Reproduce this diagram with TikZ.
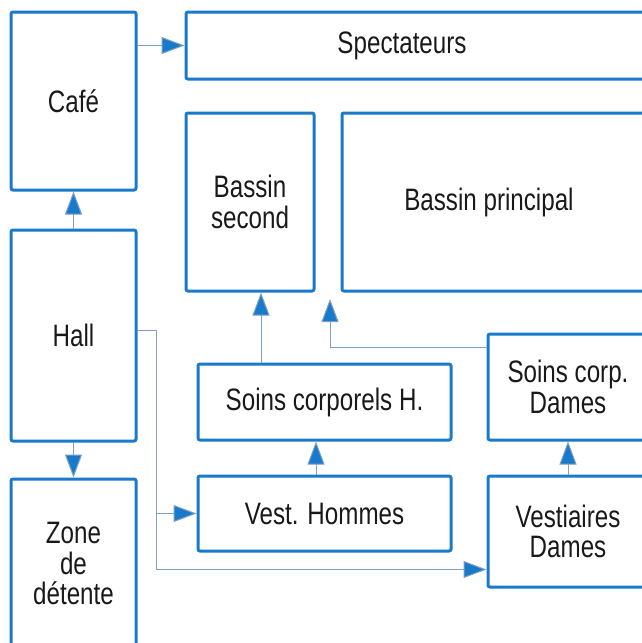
\documentclass[tikz,border=0pt]{standalone}
\usepackage{fontspec}
\setmainfont{Liberation Sans}[FakeStretch=0.78]
\usetikzlibrary{arrows.meta}

\definecolor{boxblue}{RGB}{25,122,204}
\definecolor{linecol}{RGB}{125,160,195}

\begin{document}
\begin{tikzpicture}[x=1pt,y=-1pt,
  room/.style={draw=boxblue, line width=3pt, rounded corners=2pt, align=center,
    inner sep=0pt, text=black!90, font=\fontsize{31}{30.5}\selectfont},
  link/.style={draw=linecol, line width=1pt},
  arr/.style={link, -{Triangle[length=23pt,width=17pt,fill=boxblue]}}]

\useasboundingbox (0,0) rectangle (642,643);

% Left column
\node[room, minimum width=125pt, minimum height=178pt] (cafe) at (73.5,101) {Café};
\node[room, minimum width=125pt, minimum height=211pt] (hall) at (73.5,335.5) {Hall};
\node[room, minimum width=125pt, minimum height=169pt] (zone) at (73.5,563.5) {Zone\\de\\détente};

% Pools and stands
\node[room, minimum width=462pt, minimum height=67pt] (spect) at (417,45.5) {\hspace*{-30pt}\raisebox{-2pt}{Spectateurs}};
\node[room, minimum width=128pt, minimum height=178pt] (bsec) at (250,202) {Bassin\\second};
\node[room, minimum width=306pt, minimum height=178pt] (bprin) at (495,202) {\hspace*{-12pt}\raisebox{2pt}{Bassin principal}};

% Changing rooms and care
\node[room, minimum width=253pt, minimum height=76pt] (soinsh) at (324.5,402) {Soins corporels H.};
\node[room, minimum width=160pt, minimum height=106pt] (soinsd) at (568,387) {Soins corp.\\Dames};
\node[room, minimum width=253pt, minimum height=75pt] (vesth) at (324.5,513.5) {Vest. Hommes};
\node[room, minimum width=160pt, minimum height=111pt] (vestd) at (568,531.5) {Vestiaires\\Dames};

% Connections
\draw[arr] (cafe.east |- spect.west) -- (spect.west);
\draw[arr] (hall.north) -- (cafe.south);
\draw[arr] (hall.south) -- (zone.north);

\draw[link] ([yshift=5pt]hall.east) -- ++(19,0) coordinate (hbend);
\draw[arr] (hbend) |- (vesth.west);
\draw[arr] (hbend) |- ([yshift=-38pt]vestd.west);

\draw[arr] ([xshift=-63.5pt]soinsh.north) -- ([xshift=-63.5pt]soinsh.north |- bsec.south);
\draw[arr] ([xshift=-8.5pt]vesth.north) -- ([xshift=-8.5pt]soinsh.south);
\draw[arr] (vestd.north) -- (soinsd.south);

\coordinate (gap) at (330,299);
\draw[arr] ([yshift=40pt]soinsd.west) -| (gap);

\end{tikzpicture}
\end{document}
